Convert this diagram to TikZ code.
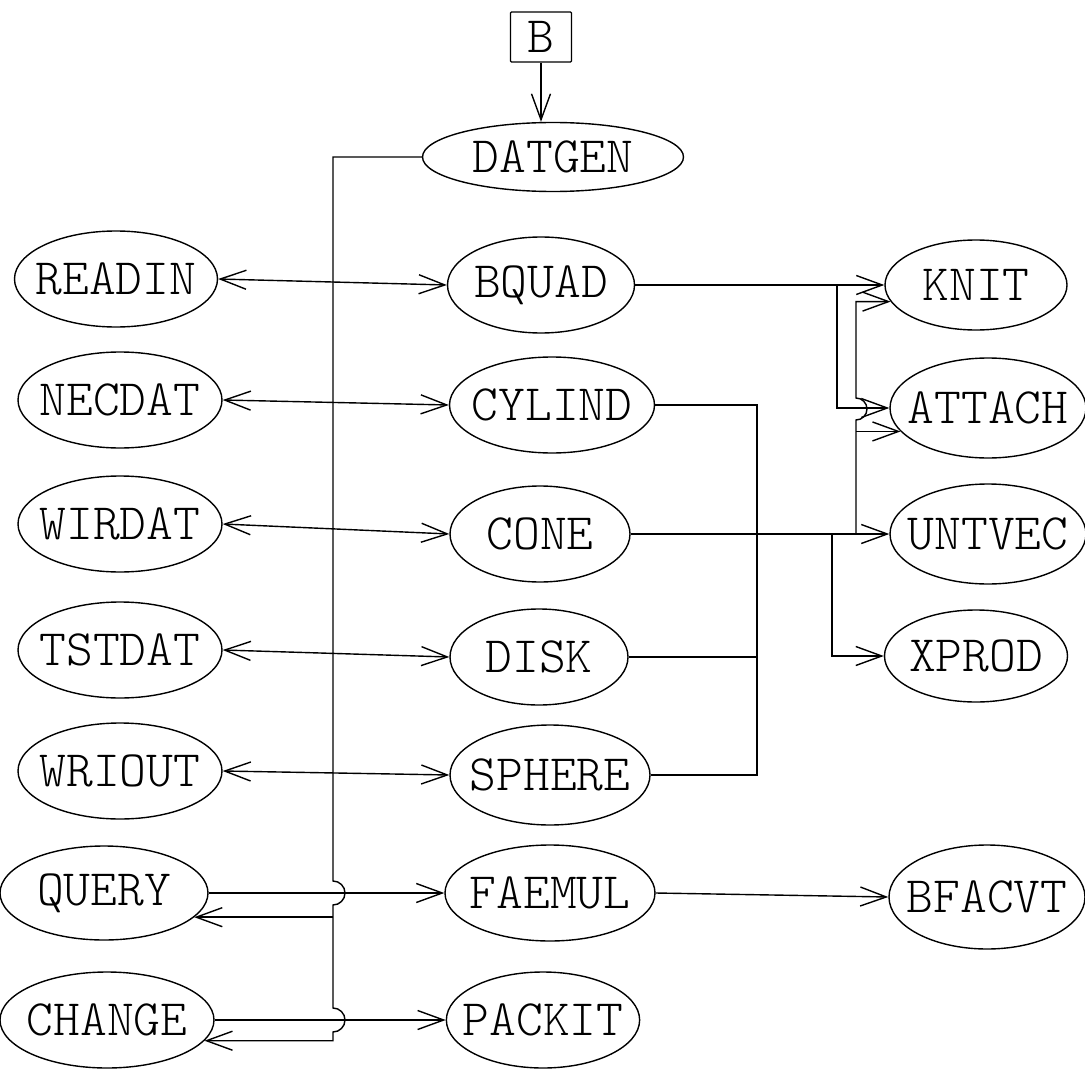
\documentclass[tikz,border=0pt]{standalone}
\usepackage{fontspec}
\newfontfamily\lmlight{lmmonolt10-regular.otf}
\usetikzlibrary{shapes.geometric,arrows.meta}
\tikzset{
  lbl/.style={font=\lmlight\fontsize{51}{51}\selectfont},
  proc/.style={lbl, draw, ellipse, line width=1.4pt, inner ysep=0pt, inner xsep=-12pt, minimum height=96pt},
  conn/.style={line width=1.4pt},
  arr/.style={conn, -{Straight Barb[length=26pt,width=19pt,line width=1.4pt]}},
  barr/.style={conn, {Straight Barb[length=26pt,width=19pt,line width=1.4pt]}-{Straight Barb[length=26pt,width=19pt,line width=1.4pt]}},
}
\begin{document}
\begin{tikzpicture}[x=1pt,y=-1pt]
\useasboundingbox[fill=white] (0,0) rectangle (1085,1070);
% entry box
\node[lbl, draw, line width=1.4pt, minimum width=61pt, minimum height=50pt, inner sep=0pt, rounded corners=1pt] (B) at (541,37) {B};
% nodes
\node[proc, minimum width=261pt, minimum height=69pt] (DATGEN) at (553,157) {DATGEN};
\node[proc, minimum width=203pt] (READIN) at (116,279) {READIN};
\node[proc, minimum width=204pt] (NECDAT) at (120,400) {NECDAT};
\node[proc, minimum width=204pt] (WIRDAT) at (120,524) {WIRDAT};
\node[proc, minimum width=204pt] (TSTDAT) at (120,650) {TSTDAT};
\node[proc, minimum width=204pt] (WRIOUT) at (120,771) {WRIOUT};
\node[proc, minimum width=208pt, minimum height=94pt] (QUERY) at (104,893) {QUERY};
\node[proc, minimum width=214pt] (CHANGE) at (107,1020) {CHANGE};
\node[proc, minimum width=187pt] (BQUAD) at (541,285) {BQUAD};
\node[proc, minimum width=205pt] (CYLIND) at (552,405) {CYLIND};
\node[proc, minimum width=180pt] (CONE) at (540,534) {CONE};
\node[proc, minimum width=178pt] (DISK) at (539,657) {DISK};
\node[proc, minimum width=200pt, minimum height=100pt] (SPHERE) at (550,775) {SPHERE};
\node[proc, minimum width=210pt] (FAEMUL) at (550,893) {FAEMUL};
\node[proc, minimum width=193pt] (PACKIT) at (543,1020) {PACKIT};
\node[proc, minimum width=182pt, minimum height=90pt] (KNIT) at (976,285) {KNIT};
\node[proc, minimum width=196pt, minimum height=100pt] (ATTACH) at (988,408) {ATTACH};
\node[proc, minimum width=196pt, minimum height=100pt] (UNTVEC) at (988,534) {UNTVEC};
\node[proc, minimum width=183pt, minimum height=92pt] (XPROD) at (976,656) {XPROD};
\node[proc, minimum width=196pt, minimum height=104pt] (BFACVT) at (987,897) {BFACVT};
% helper coordinates for vertical buses
\coordinate (bx) at (333,0);
\coordinate (rb) at (757,0);
\coordinate (ra) at (837,0);
\coordinate (rc) at (856,0);
\coordinate (rx) at (832,0);
% B -> DATGEN
\draw[arr] (B.south) -- (B.south |- DATGEN.north);
% left bidirectional links
\draw[barr] (READIN.east) -- (BQUAD.west);
\draw[barr] (NECDAT.east) -- (CYLIND.west);
\draw[barr] (WIRDAT.east) -- (CONE.west);
\draw[barr] (TSTDAT.east) -- (DISK.west);
\draw[barr] (WRIOUT.east) -- (SPHERE.west);
% QUERY / CHANGE forward links
\draw[arr] (QUERY.east) -- (FAEMUL.west);
\draw[arr] (CHANGE.east) -- (PACKIT.west);
% DATGEN bus down to QUERY and CHANGE (with hops)
\draw[arr] (DATGEN.west) -| (333,881) arc[start angle=-90,end angle=90,radius=12]
  -- (333,1008) arc[start angle=-90,end angle=90,radius=12]
  -- (bx |- CHANGE.-12) -- (CHANGE.-12);
\draw[arr] (bx |- QUERY.-15) -- (QUERY.-15);
% BQUAD -> KNIT, ATTACH
\draw[arr] (BQUAD.east) -- (KNIT.west);
\draw[arr] (ra |- BQUAD.east) |- (ATTACH.west);
% CYLIND / DISK / SPHERE bus
\draw[conn] (CYLIND.east) -| (rb |- SPHERE.east) -- (SPHERE.east);
\draw[conn] (DISK.east) -- (rb |- DISK.east);
% CONE line -> UNTVEC, XPROD
\draw[arr] (CONE.east) -- (UNTVEC.west);
\draw[arr] (rx |- CONE.east) |- (XPROD.west);
% riser to KNIT and ATTACH
\draw[arr] (rc |- CONE.east) -- (856,420) arc[start angle=90,end angle=-90,radius=11]
  -- (rc |- KNIT.191) -- (KNIT.191);
\draw[arr] (rc |- ATTACH.195) -- (ATTACH.195);
% FAEMUL -> BFACVT
\draw[arr] (FAEMUL.east) -- (BFACVT.west);
\end{tikzpicture}
\end{document}
